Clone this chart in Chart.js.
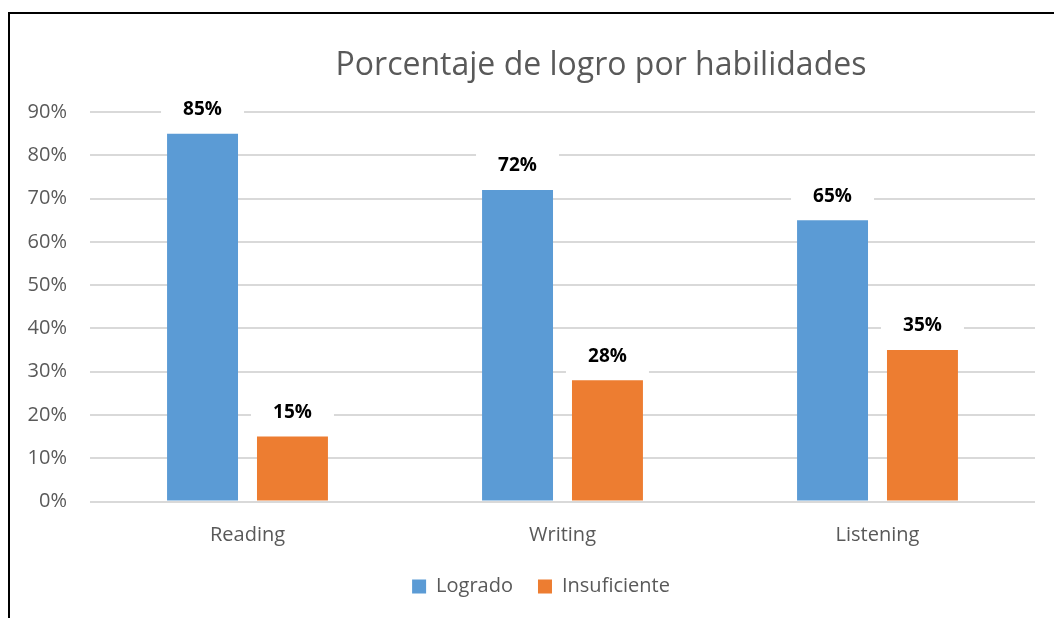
<!DOCTYPE html>
<html>
<head>
<meta charset="utf-8">
<script src="https://cdn.jsdelivr.net/npm/chart.js@4/dist/chart.umd.min.js"></script>
<style>
  html, body { margin: 0; padding: 0; background: #ffffff; overflow: hidden; }
  #frame { position: absolute; left: 8px; top: 12px; width: 2000px; height: 2000px;
           border-left: 2px solid #000; border-top: 2px solid #000; }
  #c { position: absolute; left: 0; top: 0; }
</style>
</head>
<body>
<div id="frame"></div>
<canvas id="c" width="1054" height="618"></canvas>
<script>
const chartTitle = 'Porcentaje de logro por habilidades';
const categories = ['Reading', 'Writing', 'Listening'];
const seriesNames = ['Logrado', 'Insuficiente'];
const logrado = [85, 72, 65];
const insuficiente = [15, 28, 35];
const yTickLabels = ['0%', '10%', '20%', '30%', '40%', '50%', '60%', '70%', '80%', '90%'];

const FONT = "'Open Sans', 'Noto Sans', sans-serif";
const GREY = '#595959';

const placeBoxes = {
  id: 'placeBoxes',
  afterLayout(chart) {
    const t = chart.titleBlock;
    if (t) { const dx = 601 - (t.left + t.right) / 2; t.left += dx; t.right += dx; }
    const l = chart.legend;
    if (l) { const dx = 541 - (l.left + l.right) / 2; l.left += dx; l.right += dx; }
  }
};

const valueLabels = {
  id: 'valueLabels',
  afterDatasetsDraw(chart) {
    const ctx = chart.ctx;
    ctx.save();
    ctx.font = 'bold 19px ' + FONT;
    ctx.textAlign = 'center';
    ctx.textBaseline = 'middle';
    chart.data.datasets.forEach((ds, i) => {
      const meta = chart.getDatasetMeta(i);
      meta.data.forEach((el, j) => {
        const p = el.getProps(['x', 'y'], true);
        const cy = p.y - 24;
        ctx.fillStyle = '#ffffff';
        ctx.fillRect(p.x - 41.5, cy - 19, 83, 38);
        ctx.fillStyle = '#000000';
        ctx.fillText(ds.data[j] + '%', p.x, cy);
      });
    });
    ctx.restore();
  }
};

new Chart(document.getElementById('c'), {
  type: 'bar',
  data: {
    labels: categories,
    datasets: [
      { label: seriesNames[0], data: logrado, backgroundColor: '#5B9BD5', borderWidth: 0,
        categoryPercentage: 0.571, barPercentage: 0.789 },
      { label: seriesNames[1], data: insuficiente, backgroundColor: '#ED7D31', borderWidth: 0,
        categoryPercentage: 0.571, barPercentage: 0.789 }
    ]
  },
  options: {
    responsive: false,
    animation: false,
    devicePixelRatio: 1,
    layout: { padding: { left: 10, right: 19, top: 0, bottom: 11.5 } },
    plugins: {
      title: {
        display: true,
        text: chartTitle,
        color: GREY,
        font: { family: FONT, size: 32, weight: '400', lineHeight: 1.2 },
        padding: { top: 46.2, bottom: 27.4 }
      },
      legend: {
        display: true,
        position: 'bottom',
        labels: {
          color: GREY,
          font: { family: FONT, size: 20 },
          boxWidth: 14,
          boxHeight: 14,
          padding: 25
        }
      },
      tooltip: { enabled: false }
    },
    scales: {
      x: {
        grid: { display: false },
        border: { display: false },
        ticks: { color: GREY, font: { family: FONT, size: 20 }, padding: 14 },
        afterFit(scale) { scale.height = 50; }
      },
      y: {
        min: 0,
        max: 90,
        grid: { color: '#d9d9d9', lineWidth: 2, drawTicks: false },
        border: { display: false },
        ticks: {
          stepSize: 10,
          color: GREY,
          font: { family: FONT, size: 20 },
          padding: 23,
          callback: (v, i) => yTickLabels[i]
        },
        afterFit(scale) { scale.width = 80; }
      }
    }
  },
  plugins: [placeBoxes, valueLabels]
});
</script>
</body>
</html>
